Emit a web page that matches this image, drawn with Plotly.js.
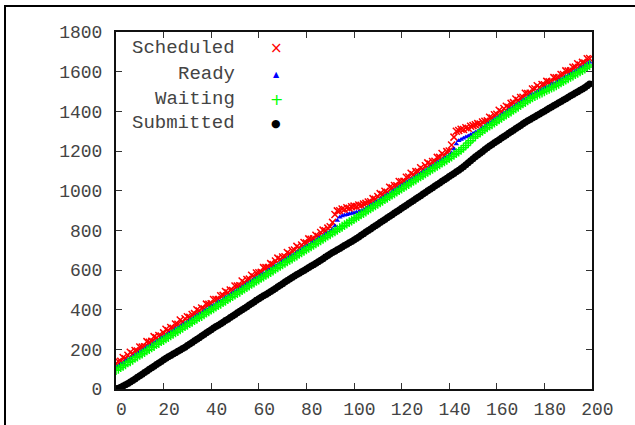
<!DOCTYPE html>
<html><head><meta charset="utf-8">
<script src="https://cdn.plot.ly/plotly-3.0.1.min.js"></script>
<style>html,body{margin:0;padding:0;background:#fff;}#wrap{position:relative;width:635px;height:425px;overflow:hidden;}
#frame{position:absolute;left:4px;top:5px;width:700px;height:500px;border-left:2px solid #000;border-top:2px solid #000;pointer-events:none;}</style>
</head><body><div id="wrap"><div id="chart" style="width:635px;height:425px;"></div><div id="frame"></div></div>
<script>
const jobIndex = [0,1,2,3,4,5,6,7,8,9,10,11,12,13,14,15,16,17,18,19,20,21,22,23,24,25,26,27,28,29,30,31,32,33,34,35,36,37,38,39,40,41,42,43,44,45,46,47,48,49,50,51,52,53,54,55,56,57,58,59,60,61,62,63,64,65,66,67,68,69,70,71,72,73,74,75,76,77,78,79,80,81,82,83,84,85,86,87,88,89,90,91,92,93,94,95,96,97,98,99,100,101,102,103,104,105,106,107,108,109,110,111,112,113,114,115,116,117,118,119,120,121,122,123,124,125,126,127,128,129,130,131,132,133,134,135,136,137,138,139,140,141,142,143,144,145,146,147,148,149,150,151,152,153,154,155,156,157,158,159,160,161,162,163,164,165,166,167,168,169,170,171,172,173,174,175,176,177,178,179,180,181,182,183,184,185,186,187,188,189,190,191,192,193,194,195,196,197,198,199];

const scheduled = [128,139,140,159,152,170,185,178,194,192,
212,211,213,239,236,240,264,258,270,267,
283,301,293,310,306,328,326,348,338,354,
364,361,376,380,400,393,408,404,428,427,
430,451,451,451,470,472,492,485,499,497,
519,519,521,545,535,552,554,574,564,585,
586,588,612,612,613,632,627,645,660,654,
666,667,688,680,698,701,719,710,726,739,
736,757,755,757,775,769,789,801,798,811,
818,840,880,898,899,908,905,914,911,919,
922,920,928,926,933,936,943,944,960,956,
971,985,980,997,992,1017,1014,1026,1025,1046,
1045,1047,1068,1069,1088,1080,1096,1097,1116,1107,
1126,1140,1134,1147,1148,1168,1168,1187,1177,1197,
1200,1230,1270,1300,1303,1310,1308,1317,1315,1325,
1328,1332,1338,1336,1346,1350,1352,1370,1366,1383,
1385,1405,1397,1414,1426,1420,1440,1444,1462,1455,
1470,1471,1491,1490,1491,1513,1514,1529,1520,1535,
1534,1551,1549,1549,1570,1569,1569,1586,1586,1604,
1603,1604,1622,1623,1640,1633,1647,1644,1665,1666];

const ready = [110,115,126,130,141,149,154,163,172,176,
188,193,200,212,216,223,232,241,246,257,
262,270,278,286,291,303,307,315,324,332,
337,348,353,360,371,377,382,393,400,406,
416,422,429,440,444,451,461,468,475,484,
491,498,506,514,519,531,536,544,553,560,
566,576,582,588,599,605,611,622,628,635,
644,651,658,668,673,679,689,697,703,713,
719,726,735,742,747,759,765,771,781,788,
795,806,822,850,866,872,876,879,882,885,
888,891,894,897,902,910,917,927,933,940,
949,957,963,972,981,985,995,1003,1009,1018,
1026,1032,1041,1050,1056,1062,1072,1079,1086,1095,
1102,1109,1118,1125,1131,1142,1148,1155,1164,1171,
1179,1190,1210,1235,1252,1258,1264,1270,1276,1282,
1288,1294,1300,1308,1317,1325,1335,1343,1349,1359,
1366,1374,1383,1391,1396,1408,1414,1422,1431,1438,
1445,1456,1462,1468,1480,1486,1491,1499,1505,1509,
1517,1523,1527,1537,1540,1544,1554,1561,1566,1576,
1581,1588,1596,1603,1607,1618,1623,1630,1640,1648];

const waiting = [95,101,110,117,124,134,140,147,157,163,
172,178,186,195,201,210,216,226,232,241,
247,256,262,271,278,286,292,301,308,317,
323,332,338,347,354,362,368,377,385,392,
400,407,415,423,429,438,445,453,461,468,
476,484,490,499,506,514,521,530,537,545,
552,560,567,575,582,590,597,606,613,621,
628,636,644,651,658,666,673,682,689,697,
704,712,719,727,734,742,750,757,765,773,
780,788,795,803,811,818,826,834,841,849,
857,864,872,880,887,895,903,911,918,926,
934,941,949,957,964,972,980,987,995,1003,
1010,1018,1026,1033,1041,1049,1056,1064,1072,1079,
1087,1095,1102,1110,1118,1125,1133,1141,1148,1156,
1164,1172,1181,1189,1197,1206,1216,1228,1240,1252,
1265,1274,1285,1293,1302,1311,1319,1328,1335,1343,
1351,1360,1367,1376,1383,1391,1399,1408,1415,1423,
1431,1440,1447,1455,1463,1471,1477,1483,1490,1495,
1501,1508,1513,1520,1525,1531,1538,1546,1552,1560,
1566,1574,1580,1588,1594,1601,1608,1616,1624,1633];

const submitted = [0,4,9,15,21,28,35,43,51,59,
67,75,83,91,99,107,115,123,131,139,
147,155,162,169,176,183,190,197,204,211,
219,227,235,243,251,259,267,275,283,291,
299,307,315,322,329,337,345,352,360,368,
376,384,392,399,407,415,423,431,439,447,
455,462,470,477,484,491,499,507,515,523,
531,539,547,554,562,570,577,584,591,598,
605,612,620,627,634,641,649,657,665,673,
681,688,695,702,709,716,723,730,737,744,
751,759,767,775,783,791,799,807,815,823,
831,839,847,855,863,871,879,887,895,903,
911,919,927,935,943,951,959,967,975,983,
991,999,1007,1015,1023,1031,1039,1047,1055,1063,
1071,1079,1087,1095,1103,1112,1121,1131,1141,1151,
1161,1171,1180,1189,1198,1207,1216,1225,1233,1241,
1249,1257,1265,1273,1281,1289,1297,1305,1313,1321,
1329,1337,1345,1352,1359,1366,1373,1380,1387,1394,
1401,1408,1415,1422,1429,1436,1443,1450,1457,1464,
1471,1478,1485,1492,1499,1506,1513,1520,1529,1538];

const seriesNames = ["Scheduled", "Ready", "Waiting", "Submitted"];
const xTicks = [0,20,40,60,80,100,120,140,160,180,200];
const yTicks = [0,200,400,600,800,1000,1200,1400,1600,1800];

const FONT = "'Liberation Mono', 'Courier New', monospace";
const traces = [
  {x: jobIndex, y: scheduled, name: seriesNames[0], mode: "markers", type: "scatter",
   marker: {symbol: "x-thin", size: 7, color: "#ff0000", line: {color: "#ff0000", width: 1.5}}},
  {x: jobIndex, y: ready, name: seriesNames[1], mode: "markers", type: "scatter",
   marker: {symbol: "triangle-up", size: 5, color: "#0000ff", line: {width: 0}}},
  {x: jobIndex, y: waiting, name: seriesNames[2], mode: "markers", type: "scatter",
   marker: {symbol: "cross-thin", size: 7, color: "#00ff00", line: {color: "#00ff00", width: 1.5}}},
  {x: jobIndex, y: submitted, name: seriesNames[3], mode: "markers", type: "scatter",
   marker: {symbol: "circle", size: 7, color: "#000000", line: {width: 0}}}
];

// plot-area geometry (pixels)
const L = 116, R = 592, T = 32, B = 389;
const px = v => (v - L) / (R - L);
const py = v => (B - v) / (B - T);
const legendRows = [48.5, 74, 99, 123.5];
const legendSym = [
  {t: "×", c: "#ff0000", s: 15},
  {t: "▲", c: "#0000ff", s: 8},
  {t: "+", c: "#00ff00", s: 16},
  {t: "●", c: "#000000", s: 11}
];
const annotations = [];
seriesNames.forEach((n, i) => {
  annotations.push({xref: "paper", yref: "paper", x: px(237), y: py(legendRows[i]), xanchor: "right", yanchor: "middle",
    text: n, showarrow: false, font: {family: FONT, size: 19, color: "#444"}});
  annotations.push({xref: "paper", yref: "paper", x: px(276), y: py(legendRows[i]), xanchor: "center", yanchor: "middle",
    text: legendSym[i].t, showarrow: false, font: {family: "DejaVu Sans", size: legendSym[i].s, color: legendSym[i].c}});
});

const axisCommon = {showgrid: false, zeroline: false, showline: true, linecolor: "#111", linewidth: 2,
  ticks: "inside", ticklen: 6, tickwidth: 1, tickcolor: "#333", mirror: "ticks",
  tickfont: {family: FONT, size: 18, color: "#444"}, fixedrange: true};

const layout = {
  width: 635, height: 425,
  margin: {l: L, r: 635 - R, t: T, b: 425 - B, pad: 0},
  paper_bgcolor: "#fff", plot_bgcolor: "#fff",
  showlegend: false,
  xaxis: Object.assign({}, axisCommon, {range: [0, 200], tickvals: xTicks,
    ticktext: xTicks.map(v => "\u00a0" + v), ticklabelstandoff: 2}),
  yaxis: Object.assign({}, axisCommon, {range: [0, 1800], tickvals: yTicks, ticktext: yTicks.map(String), ticklabelstandoff: 8}),
  annotations: annotations
};
Plotly.newPlot("chart", traces, layout, {displayModeBar: false, staticPlot: true});
</script>
</body></html>
